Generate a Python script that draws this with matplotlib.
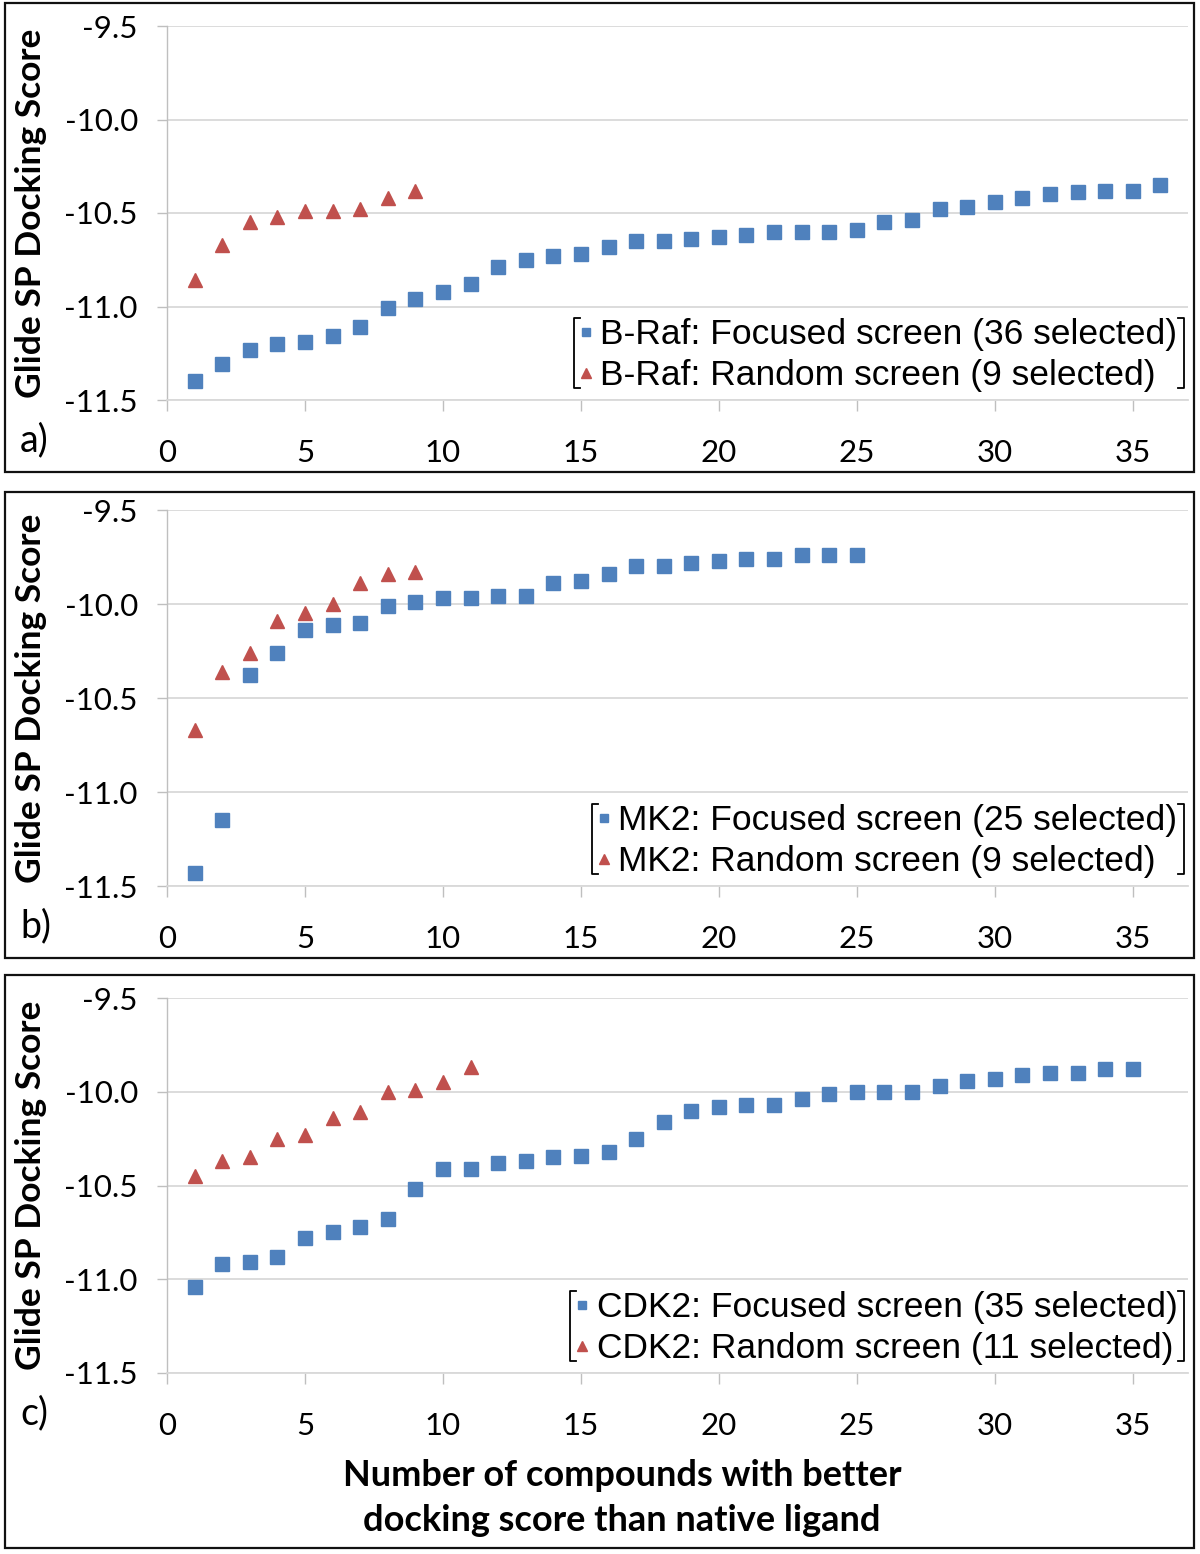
import numpy as np
import matplotlib
matplotlib.use('Agg')
import matplotlib.pyplot as plt
from matplotlib.lines import Line2D
from matplotlib.patches import Rectangle
from matplotlib.font_manager import FontProperties

# Glide SP docking scores, sorted, for each target
braf_focused = [-11.40, -11.31, -11.23, -11.20, -11.19, -11.16, -11.11, -11.01, -10.96, -10.92,
                -10.88, -10.79, -10.75, -10.73, -10.72, -10.68, -10.65, -10.65, -10.64, -10.63,
                -10.62, -10.60, -10.60, -10.60, -10.59, -10.55, -10.54, -10.48, -10.47, -10.44,
                -10.42, -10.40, -10.39, -10.38, -10.38, -10.35]
braf_random = [-10.86, -10.67, -10.55, -10.52, -10.49, -10.49, -10.48, -10.42, -10.38]

mk2_focused = [-11.43, -11.15, -10.38, -10.26, -10.14, -10.11, -10.10, -10.01, -9.99, -9.97,
               -9.97, -9.96, -9.96, -9.89, -9.88, -9.84, -9.80, -9.80, -9.78, -9.77,
               -9.76, -9.76, -9.74, -9.74, -9.74]
mk2_random = [-10.67, -10.36, -10.26, -10.09, -10.05, -10.00, -9.89, -9.84, -9.83]

cdk2_focused = [-11.04, -10.92, -10.91, -10.88, -10.78, -10.75, -10.72, -10.68, -10.52, -10.41,
                -10.41, -10.38, -10.37, -10.35, -10.34, -10.32, -10.25, -10.16, -10.10, -10.08,
                -10.07, -10.07, -10.04, -10.01, -10.00, -10.00, -10.00, -9.97, -9.94, -9.93,
                -9.91, -9.90, -9.90, -9.88, -9.88]
cdk2_random = [-10.45, -10.37, -10.35, -10.25, -10.23, -10.14, -10.11, -10.00, -9.99, -9.95, -9.87]

targets = ['B-Raf', 'MK2', 'CDK2']
panel_tags = ['a)', 'b)', 'c)']
focused = [braf_focused, mk2_focused, cdk2_focused]
random_ = [braf_random, mk2_random, cdk2_random]

yticks = [-11.5, -11.0, -10.5, -10.0, -9.5]
xticks = [0, 5, 10, 15, 20, 25, 30, 35]

blue = '#4F81BD'
red = '#C0504D'
grid_c = '#D9D9D9'
axis_c = '#BFBFBF'
tickfont = 'Lato'
legprop = FontProperties(family=['Liberation Sans', 'DejaVu Sans'], size=25.5)

W, H = 1200, 1554
fig = plt.figure(figsize=(W/100, H/100), dpi=100)

# pixel layout (top, bottom) of each plot area and (top, bottom) of each frame
plot_rows = [(26, 400), (510, 886), (998, 1373)]
frames = [(3, 472), (492, 958), (975, 1548)]
left_px, right_px = 167, 1188

axes = []
for i in range(3):
    top, bot = plot_rows[i]
    ax = fig.add_axes([left_px/W, 1 - bot/H, (right_px-left_px)/W, (bot-top)/H])
    axes.append(ax)
    f = focused[i]
    r = random_[i]
    ax.plot(np.arange(1, len(f)+1), f, 's', color=blue, ms=9.5, mec=blue, lw=0,
            label='%s: Focused screen (%d selected)' % (targets[i], len(f)))
    ax.plot(np.arange(1, len(r)+1), r, '^', color=red, ms=10, mec=red, lw=0,
            label='%s: Random screen (%d selected)' % (targets[i], len(r)))
    ax.set_xlim(0, 37)
    ax.set_ylim(-11.5, -9.5)
    ax.set_yticks(yticks)
    ax.set_yticklabels(['%.1f' % v for v in yticks])
    ax.set_xticks(xticks)
    ax.grid(axis='y', color=grid_c, lw=1.3)
    ax.set_axisbelow(True)
    for s in ['top', 'right']:
        ax.spines[s].set_visible(False)
    ax.spines['left'].set_color(axis_c)
    ax.spines['bottom'].set_color(grid_c)
    ax.spines['left'].set_linewidth(1.0)
    ax.spines['bottom'].set_linewidth(1.3)
    ax.tick_params(axis='y', length=7, width=1, color=axis_c, pad=14,
                   labelsize=22.5)
    ax.tick_params(axis='x', length=8, width=1, color=axis_c, pad=20,
                   labelsize=22.5)
    for lab in ax.get_xticklabels() + ax.get_yticklabels():
        lab.set_family(tickfont)
    ax.set_ylabel('Glide SP Docking Score', family=tickfont, fontweight='bold',
                  fontsize=25.5)
    ax.yaxis.set_label_coords(-120/(right_px-left_px), 0.5)

    leg = ax.legend(loc='lower right', bbox_to_anchor=(1.014, -0.045), frameon=False,
                    prop=legprop, handlelength=0.4,
                    handletextpad=0.2, labelspacing=0.22, borderpad=0.2,
                    markerscale=0.65)

    # frame around the panel
    ftop, fbot = frames[i]
    fig.add_artist(Rectangle((5/W, 1 - fbot/H), 1189/W, (fbot-ftop)/H,
                             transform=fig.transFigure, fill=False,
                             ec='#111111', lw=1.6))
    fig.text(20/W, 1 - (plot_rows[i][1] + 40) / H,
             panel_tags[i], family=tickfont, fontsize=27, va='center', ha='left')

fig.text(622/W, 1 - 1498/H, 'Number of compounds with better\ndocking score than native ligand',
         family=tickfont, fontweight='bold', fontsize=26, ha='center', va='center',
         linespacing=1.45)

# brackets around the legends
fig.canvas.draw()
inv = fig.transFigure.inverted()
for ax in axes:
    bb = ax.get_legend().get_window_extent()
    (x0, y0), (x1, y1) = inv.transform([(bb.x0 + 2, bb.y0 + 11), (bb.x1 - 1, bb.y1 - 7)])
    sx = 6 / W
    fig.add_artist(Line2D([x0 + sx, x0, x0, x0 + sx], [y1, y1, y0, y0],
                          transform=fig.transFigure, color='black', lw=1.3))
    fig.add_artist(Line2D([x1 - sx, x1, x1, x1 - sx], [y1, y1, y0, y0],
                          transform=fig.transFigure, color='black', lw=1.3))

fig.savefig('out.png', dpi=100)
